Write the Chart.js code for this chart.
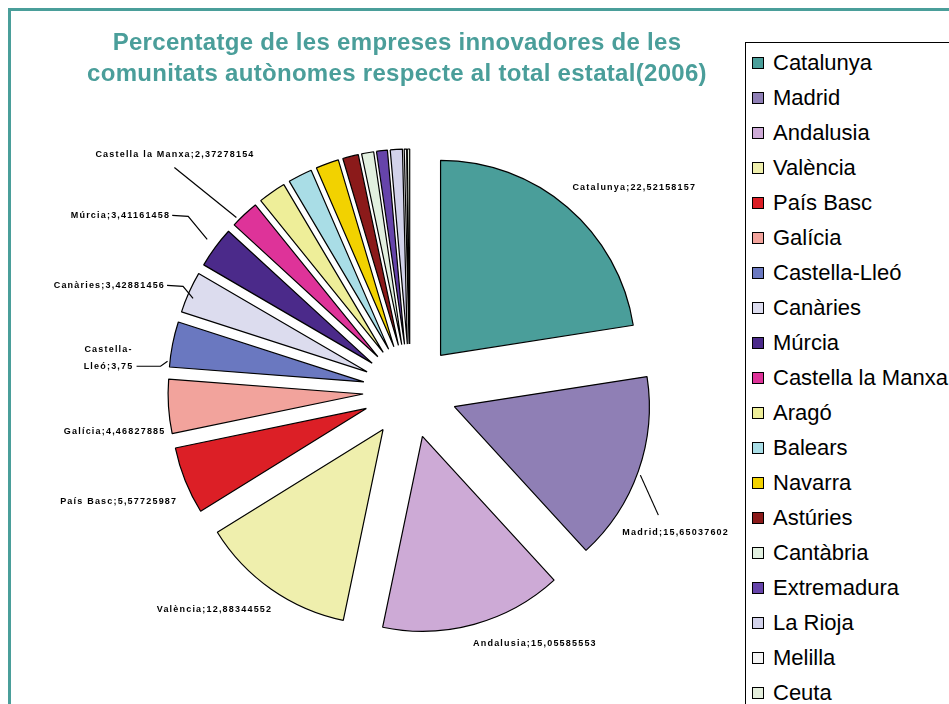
<!DOCTYPE html>
<html><head><meta charset="utf-8">
<script src="https://cdn.jsdelivr.net/npm/chart.js@4/dist/chart.umd.min.js"></script>
<style>
body{margin:0;background:#fff;width:949px;height:704px;overflow:hidden;position:relative;font-family:"Liberation Sans",Arial,sans-serif}
#frame{position:absolute;left:8px;top:8px;width:1000px;height:800px;border:3px solid #4a9e9a;box-sizing:border-box}
#c{position:absolute;left:0;top:0}
#title{position:absolute;left:0;width:794px;top:26px;text-align:center;color:#4a9e9a;font-weight:bold;font-size:24px;line-height:31px;letter-spacing:0.3px;white-space:nowrap}
#legend{position:absolute;left:745px;top:42px;width:300px;height:800px;border:1px solid #000;box-sizing:border-box;background:#fff}
.item{position:absolute;left:0;height:24px;white-space:nowrap;font-size:22px;line-height:24px;color:#000}
.item .sw{position:absolute;left:6px;top:6px;width:12px;height:12px;border:1px solid #000;box-sizing:border-box}
.item .tx{position:absolute;left:27px;top:0}
</style></head>
<body>
<div id="frame"></div>
<canvas id="c" width="949" height="704"></canvas>
<div id="title">Percentatge de les empreses innovadores de les<br>comunitats autònomes respecte al total estatal(2006)</div>
<div id="legend"></div>
<script>
const categories = ['Catalunya','Madrid','Andalusia','València','País Basc','Galícia','Castella-Lleó','Canàries','Múrcia','Castella la Manxa','Aragó','Balears','Navarra','Astúries','Cantàbria','Extremadura','La Rioja','Melilla','Ceuta'];
const values = [22.52158157,15.65037602,15.05585553,12.88344552,5.57725987,4.46827885,3.75,3.42881456,3.41161458,2.37278154,2.3,2.0,1.9,1.3,1.0,0.9,1.0,0.2,0.2];
const labelledCount = 10;
const colors = ['#4a9e9a','#8f7fb5','#cdaad6','#efefad','#dc1f26','#f2a39c','#6a78c0','#dcdcee','#4b2a8a','#de3399','#eeee99','#a9dde6','#f2d200','#8b1a1a','#e2f0e0','#6644aa','#d2d2ea','#f4f4f4','#e4eedc'];

// legend
const lg = document.getElementById('legend');
categories.forEach((c,i)=>{
  const d=document.createElement('div'); d.className='item';
  d.style.top=(63+i*35-42-12-1)+'px';
  d.innerHTML='<span class="sw" style="background:'+colors[i]+'"></span><span class="tx">'+c+'</span>';
  lg.appendChild(d);
});

const EXPLODE = 47;
const explodePlugin = {
  id:'explode',
  beforeDatasetDraw(chart,args){
    const ctx=chart.ctx;
    args.meta.data.forEach(arc=>{
      const mid=(arc.startAngle+arc.endAngle)/2;
      ctx.save();
      ctx.translate(Math.cos(mid)*EXPLODE,Math.sin(mid)*EXPLODE);
      arc.draw(ctx);
      ctx.restore();
    });
    return false;
  }
};

// label placement relative to the outer mid-point of each exploded slice
const labelPlace = [
  {dx:5,dy:-20,align:'left',lead:[]},
  {dx:-16,dy:61,align:'left',lead:[[2,4],[20,44]]},
  {dx:-1,dy:19,align:'left',lead:[]},
  {dx:1,dy:20,align:'right',lead:[]},
  {dx:-8,dy:21,align:'right',lead:[]},
  {dx:-3,dy:25,align:'right',lead:[]},
  {dx:-64,dy:5,align:'center',split:true,lead:[[-36,22],[-12,22],[-5,17]]},
  {dx:-24,dy:-7,align:'right',lead:[[-22,-7],[-6,-6],[4,6]]},
  {dx:-45,dy:-32,align:'right',lead:[[-43,-32],[-27,-31],[-8,-8]]},
  {dx:-149,dy:-60,align:'left',lead:[[-70,-47],[-8,3]]}
];
const labelPlugin = {
  id:'sliceLabels',
  afterDatasetsDraw(chart){
    const ctx=chart.ctx; const meta=chart.getDatasetMeta(0);
    ctx.save();
    ctx.font='bold 9px "Liberation Sans", Arial, sans-serif';
    ctx.letterSpacing='1.2px';
    ctx.fillStyle='#000'; ctx.strokeStyle='#000'; ctx.lineWidth=1.2;
    ctx.textBaseline='middle';
    for(let i=0;i<labelledCount;i++){
      const arc=meta.data[i]; const mid=(arc.startAngle+arc.endAngle)/2;
      const ax=arc.x+Math.cos(mid)*(arc.outerRadius+EXPLODE);
      const ay=arc.y+Math.sin(mid)*(arc.outerRadius+EXPLODE);
      const p=labelPlace[i];
      if(p.lead.length){
        ctx.beginPath();
        p.lead.forEach((q,k)=>{ if(k===0) ctx.moveTo(ax+q[0],ay+q[1]); else ctx.lineTo(ax+q[0],ay+q[1]); });
        ctx.stroke();
      }
      const txt=categories[i]+';'+String(values[i]).replace('.',',');
      ctx.textAlign=p.align;
      if(p.split){
        const parts=[categories[i].split('-')[0]+'-', categories[i].split('-')[1]+';'+String(values[i]).replace('.',',')];
        ctx.fillText(parts[0],ax+p.dx,ay+p.dy);
        ctx.fillText(parts[1],ax+p.dx,ay+p.dy+17);
      } else {
        ctx.fillText(txt,ax+p.dx,ay+p.dy);
      }
    }
    ctx.restore();
  }
};

new Chart(document.getElementById('c'),{
  type:'pie',
  data:{labels:categories,datasets:[{data:values,backgroundColor:colors,borderColor:'#000',borderWidth:1.2,hoverOffset:0,offset:0}]},
  options:{
    responsive:false,animation:false,events:[],
    radius:195,
    layout:{padding:{left:100,right:229,top:120,bottom:42}},
    plugins:{legend:{display:false},title:{display:false},tooltip:{enabled:false}}
  },
  plugins:[explodePlugin,labelPlugin]
});
</script>
</body></html>
